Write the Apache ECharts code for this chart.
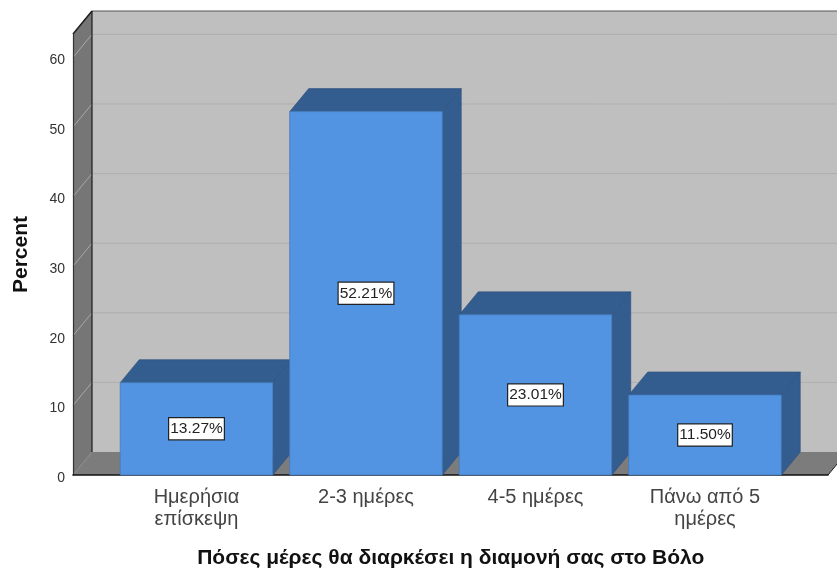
<!DOCTYPE html>
<html>
<head>
<meta charset="utf-8">
<style>html,body{margin:0;padding:0;background:#fff}#c{width:837px;height:568px}</style>
<script src="https://cdn.jsdelivr.net/npm/echarts@6/dist/echarts.min.js"></script>
</head>
<body>
<div id="c"></div>
<script>
const categories = ['Ημερήσια\nεπίσκεψη', '2-3 ημέρες', '4-5 ημέρες', 'Πάνω από 5\nημέρες'];
const percents = [13.27, 52.21, 23.01, 11.50];
const yTicks = [0, 10, 20, 30, 40, 50, 60];
const yMax = 63.36;
const xTitle = 'Πόσες μέρες θα διαρκέσει η διαμονή σας στο Βόλο';
const yTitle = 'Percent';

const DX = 19, DY = -23, FONT = '"Liberation Sans", Arial, sans-serif';
const chart = echarts.init(document.getElementById('c'), null, {renderer: 'canvas'});

function poly(points, fill, stroke, lw) {
  return {type: 'polygon', shape: {points}, style: {fill, stroke: stroke || null, lineWidth: lw || 0}};
}
function line(a, b, stroke, lw) {
  return {type: 'line', shape: {x1: a[0], y1: a[1], x2: b[0], y2: b[1]}, style: {stroke, lineWidth: lw}};
}

function renderWalls(params, api) {
  const bl = api.coord([0, 0]), br = api.coord([1, 0]), tl = api.coord([0, yMax]);
  const l = bl[0], r = br[0], b = bl[1], t = tl[1];
  const kids = [
    poly([[l + DX, t + DY], [r + DX, t + DY], [r + DX, b + DY], [l + DX, b + DY]], '#bfbfbf'),
    poly([[l, b], [l, t], [l + DX, t + DY], [l + DX, b + DY]], '#767676'),
    poly([[l, b], [r, b], [r + DX, b + DY], [l + DX, b + DY]], '#7c7c7c')
  ];
  yTicks.forEach(v => {
    if (v === 0) return;
    const y = api.coord([0, v])[1];
    kids.push(line([l, y], [l + DX, y + DY], '#a8a8a8', 1));
    kids.push(line([l + DX, y + DY], [r + DX, y + DY], '#afafaf', 1));
  });
  kids.push(line([l, t], [l + DX, t + DY], '#1c1c1c', 1.5));
  kids.push(line([l + DX, t + DY], [r + DX, t + DY], '#555555', 1));
  kids.push(line([l + DX, t + DY], [l + DX, b + DY], '#1c1c1c', 1.2));
  kids.push(line([l, b], [l + DX, b + DY], '#8a8a8a', 1));
  kids.push(line([r, b], [r + DX, b + DY], '#1c1c1c', 1));
  return {type: 'group', children: kids};
}

function renderBar(params, api) {
  const p = api.coord([api.value(0), api.value(1)]);
  const base = api.coord([api.value(0), 0]);
  const w = api.size([1, 0])[0] * 0.9;
  const l = p[0] - w / 2, r = p[0] + w / 2, t = p[1], b = base[1];
  const edge = '#2f4f78';
  return {type: 'group', children: [
    poly([[l, t], [r, t], [r + DX, t + DY], [l + DX, t + DY]], '#335c8f', edge, 0.6),
    poly([[r, t], [r, b], [r + DX, b + DY], [r + DX, t + DY]], '#335c8f', edge, 0.6),
    poly([[l, t], [r, t], [r, b], [l, b]], '#5294e2', '#4478b8', 0.8),
    {type: 'text', x: (l + r) / 2, y: (t + b) / 2, style: {
      text: api.value(1).toFixed(2) + '%', fill: '#222', font: '15.5px ' + FONT,
      align: 'center', verticalAlign: 'middle',
      backgroundColor: '#fff', borderColor: '#222', borderWidth: 1.2, padding: [3, 1, 2, 1]
    }}
  ]};
}

chart.setOption({
  animation: false,
  backgroundColor: '#fff',
  grid: [
    {left: 73, width: 755, top: 34, height: 441, outerBoundsMode: 'none'},
    {left: 111.75, width: 678, top: 34, height: 441, outerBoundsMode: 'none'}
  ],
  xAxis: [
    {gridIndex: 0, type: 'value', min: 0, max: 1, z: 1,
     axisLine: {show: true, onZero: false, lineStyle: {color: '#111', width: 1.5}},
     axisTick: {show: false}, axisLabel: {show: false}, splitLine: {show: false}},
    {gridIndex: 1, type: 'category', data: categories, z: 3,
     axisLine: {show: false}, axisTick: {show: false},
     axisLabel: {interval: 0, color: '#444', fontFamily: FONT, fontSize: 20, lineHeight: 22, margin: 11},
     name: xTitle, nameLocation: 'middle', nameGap: 73,
     nameTextStyle: {color: '#111', fontFamily: FONT, fontSize: 21, fontWeight: 'bold'}}
  ],
  yAxis: [
    {gridIndex: 0, type: 'value', min: 0, max: yMax, interval: 10, z: 1,
     axisLine: {show: true, lineStyle: {color: '#333', width: 1.2}},
     axisTick: {show: false}, splitLine: {show: false},
     showMaxLabel: false,
     axisLabel: {color: '#333', fontFamily: FONT, fontSize: 14, margin: 8, verticalAlign: 'top', lineHeight: 6,
       formatter: v => yTicks.includes(v) ? String(v) : ''},
     name: yTitle, nameLocation: 'middle', nameGap: 41,
     nameTextStyle: {color: '#111', fontFamily: FONT, fontSize: 21, fontWeight: 'bold'}},
    {gridIndex: 1, type: 'value', min: 0, max: yMax, interval: 10, show: false}
  ],
  series: [
    {type: 'custom', xAxisIndex: 0, yAxisIndex: 0, z: 0, silent: true, clip: false,
     data: [[0, 0]], renderItem: renderWalls},
    {type: 'custom', xAxisIndex: 1, yAxisIndex: 1, z: 2, silent: true, clip: false,
     encode: {x: 0, y: 1},
     data: percents.map((v, i) => [i, v]), renderItem: renderBar}
  ]
});
</script>
</body>
</html>
